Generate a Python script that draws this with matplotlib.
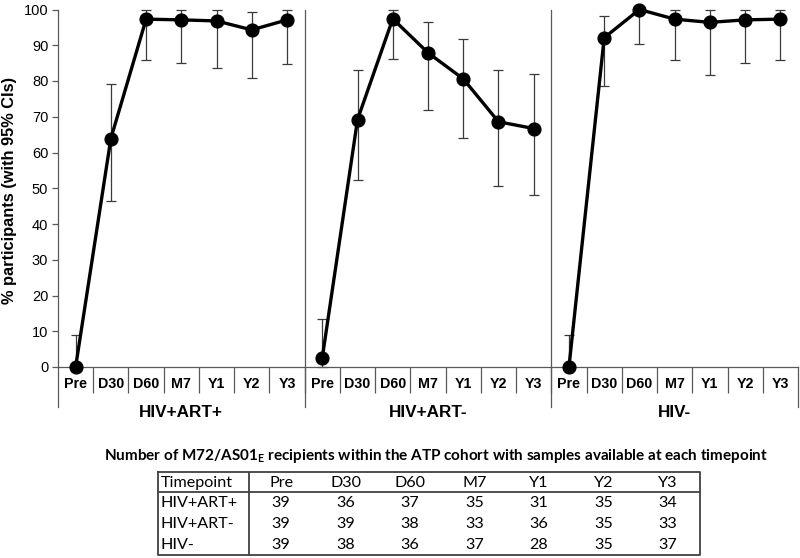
import matplotlib
matplotlib.use("Agg")
import matplotlib.pyplot as plt
import matplotlib.transforms as mtransforms
import numpy as np

# data
timepoints = ['Pre', 'D30', 'D60', 'M7', 'Y1', 'Y2', 'Y3']
groups = ['HIV+ART+', 'HIV+ART-', 'HIV-']

pct_art_pos = [0, 63.9, 97.3, 97.1, 96.8, 94.3, 97.1]
lo_art_pos = [0, 46.3, 85.8, 85.1, 83.5, 80.8, 84.7]
hi_art_pos = [9.0, 79.2, 99.9, 99.9, 99.9, 99.3, 99.9]

pct_art_neg = [2.6, 69.2, 97.4, 87.9, 80.6, 68.6, 66.7]
lo_art_neg = [0.1, 52.4, 86.2, 71.8, 64.0, 50.7, 48.2]
hi_art_neg = [13.5, 83.0, 99.9, 96.6, 91.8, 83.2, 82.0]

pct_hiv_neg = [0, 92.1, 100, 97.3, 96.4, 97.1, 97.3]
lo_hiv_neg = [0, 78.6, 90.3, 85.8, 81.7, 85.1, 85.8]
hi_hiv_neg = [9.0, 98.3, 100, 99.9, 99.9, 99.9, 99.9]

n_art_pos = [39, 36, 37, 35, 31, 35, 34]
n_art_neg = [39, 39, 38, 33, 36, 35, 33]
n_hiv_neg = [39, 38, 36, 37, 28, 35, 37]

series = [(pct_art_pos, lo_art_pos, hi_art_pos),
          (pct_art_neg, lo_art_neg, hi_art_neg),
          (pct_hiv_neg, lo_hiv_neg, hi_hiv_neg)]
counts = [n_art_pos, n_art_neg, n_hiv_neg]

W, H = 800, 558
fig = plt.figure(figsize=(W / 100, H / 100), dpi=100)
ax = fig.add_axes([58 / W, 1 - 367 / H, 740 / W, 357.5 / H])

arial = 'Liberation Sans'
grey = '#595959'
nt = len(timepoints)

for i, (pct, lo, hi) in enumerate(series):
    xs = np.arange(nt) + nt * i
    pct = np.array(pct)
    yerr = [pct - np.array(lo), np.array(hi) - pct]
    ax.errorbar(xs, pct, yerr=yerr, fmt='none', ecolor='#3a3a3a', elinewidth=0.9,
                capsize=3.8, capthick=0.9, clip_on=False, zorder=2)
    ax.plot(xs, pct, '-o', color='black', lw=2.4, ms=9.2, clip_on=False, zorder=3)

ax.set_xlim(-0.5, nt * len(groups) - 0.5)
ax.set_ylim(0, 100)
ax.set_yticks(range(0, 101, 10))
for lab in ax.get_yticklabels():
    lab.set_fontfamily(arial)
    lab.set_fontsize(10.5)
ax.tick_params(axis='y', length=4, width=0.9, color=grey, pad=3)

for s in ['top', 'right']:
    ax.spines[s].set_visible(False)
for s in ['left', 'bottom']:
    ax.spines[s].set_color(grey)
    ax.spines[s].set_linewidth(0.9)

xpos = np.arange(nt * len(groups))
ax.set_xticks(xpos)
ax.set_xticklabels(timepoints * len(groups), fontfamily=arial, fontweight='bold', fontsize=10.3)
ax.tick_params(axis='x', length=0, pad=7)
ax.set_xticks(np.arange(0.5, nt * len(groups) - 1, 1), minor=True)
ax.tick_params(axis='x', which='minor', length=19, width=0.9, color=grey)

trans = mtransforms.blended_transform_factory(ax.transData, ax.transAxes)
for k in range(len(groups) + 1):
    xb = nt * k - 0.5
    ytop = 1.0 if 0 < k < len(groups) else 0.0
    ax.plot([xb, xb], [-0.112, ytop], color=grey, lw=0.9, transform=trans, clip_on=False)

for i, g in enumerate(groups):
    ax.text(nt * i + (nt - 1) / 2, -0.128, g, transform=trans, ha='center', va='center',
            fontfamily=arial, fontweight='bold', fontsize=12.3)

fig.text(10 / W, 1 - 190 / H, '% participants (with 95% CIs)', rotation=90, ha='center',
         va='center', fontfamily=arial, fontweight='bold', fontsize=11.8)

# table below the chart
calibri = 'Lato'
fig.text(436 / W, 1 - 456 / H,
         r'Number of M72/AS01$\mathregular{_E}$ recipients within the ATP cohort with samples available at each timepoint',
         ha='center', va='center', fontfamily=calibri, fontweight='bold', fontsize=11.0)

left, right, top, bottom = 158, 700, 472, 555
first_w = 91
tax = fig.add_axes([left / W, 1 - bottom / H, (right - left) / W, (bottom - top) / H])
tax.set_xlim(left, right)
tax.set_ylim(bottom, top)
tax.axis('off')
tcol = '#404040'
tax.plot([left, right, right, left, left], [top, top, bottom, bottom, top], color=tcol,
         lw=1.3, clip_on=False)
tax.plot([left + first_w] * 2, [top, bottom], color=tcol, lw=1.3)
head_h = 20
tax.plot([left, right], [top + head_h] * 2, color=tcol, lw=1.3)

tsize = 11.6
col_w = (right - left - first_w) / nt
row_h = (bottom - top - head_h) / len(groups)
tax.text(left + 3, top + head_h / 2 + 1, 'Timepoint', ha='left', va='center',
         fontfamily=calibri, fontsize=tsize)
for j, tp in enumerate(timepoints):
    tax.text(left + first_w + col_w * (j + 0.5), top + head_h / 2 + 1, tp, ha='center',
             va='center', fontfamily=calibri, fontsize=tsize)
for i, g in enumerate(groups):
    yc = top + head_h + row_h * (i + 0.5) + 1
    tax.text(left + 3, yc, g, ha='left', va='center', fontfamily=calibri, fontsize=tsize)
    for j, n in enumerate(counts[i]):
        tax.text(left + first_w + col_w * (j + 0.5), yc, str(n), ha='center', va='center',
                 fontfamily=calibri, fontsize=tsize)

fig.savefig('out.png', dpi=100)
